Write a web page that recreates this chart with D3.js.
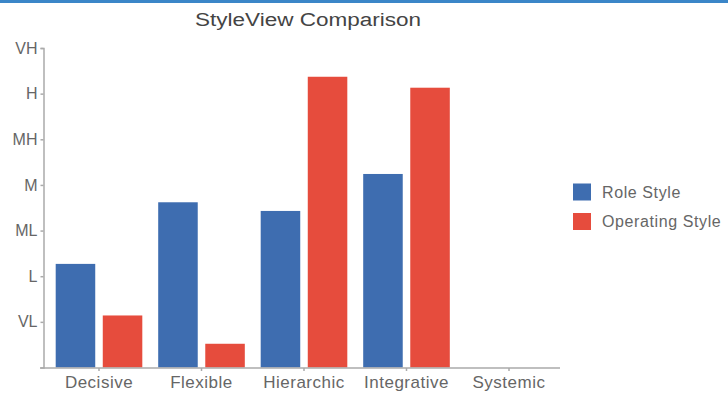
<!DOCTYPE html>
<html>
<head>
<meta charset="utf-8">
<script src="https://cdn.jsdelivr.net/npm/d3@7"></script>
<style>
  body { margin: 0; background: #fff; }
  svg { display: block; font-family: "Liberation Sans", Arial, sans-serif; }
</style>
</head>
<body>
<script>
// Chart data
const categories = ["Decisive", "Flexible", "Hierarchic", "Integrative", "Systemic"];
const seriesNames = ["Role Style", "Operating Style"];
const roleStyle = [2.27, 3.62, 3.43, 4.24, null];
const operatingStyle = [1.14, 0.52, 6.37, 6.13, null];
const levelLabels = ["VL", "L", "ML", "M", "MH", "H", "VH"]; // values 1..7
const colors = ["#3e6db0", "#e64c3d"];

const width = 728, height = 394;

const svg = d3.select("body").append("svg")
    .attr("width", width)
    .attr("height", height);

// top band
svg.append("rect")
    .attr("x", 0).attr("y", 0)
    .attr("width", width).attr("height", 3)
    .attr("fill", "#3b86c8");

// Title
svg.append("text")
    .attr("x", 308)
    .attr("y", 26)
    .attr("text-anchor", "middle")
    .attr("font-size", 18)
    .attr("fill", "#444")
    .attr("textLength", 226)
    .attr("lengthAdjust", "spacingAndGlyphs")
    .text("StyleView Comparison");

// Scales
const x0 = d3.scaleBand()
    .domain(categories)
    .range([47.75, 560.25])
    .paddingInner(0.155)
    .paddingOuter(0.0775);

const x1 = d3.scaleBand()
    .domain(seriesNames)
    .range([0, x0.bandwidth()])
    .paddingInner(0.16);

const y = d3.scaleLinear()
    .domain([0, levelLabels.length])
    .range([367.5, 48]);

// Bars
const rows = categories.map((c, i) => ({
    category: c,
    values: [roleStyle[i], operatingStyle[i]]
}));

const groups = svg.append("g")
    .selectAll("g")
    .data(rows)
    .join("g")
    .attr("transform", d => `translate(${x0(d.category)},0)`);

groups.selectAll("rect")
    .data(d => d.values.map((v, j) => ({ series: seriesNames[j], value: v, j: j })).filter(d => d.value != null))
    .join("rect")
    .attr("x", d => x1(d.series))
    .attr("width", x1.bandwidth())
    .attr("y", d => y(d.value))
    .attr("height", d => y(0) - y(d.value))
    .attr("fill", d => colors[d.j]);

// Y axis
const yAxis = svg.append("g")
    .attr("transform", "translate(43.5,0)")
    .call(d3.axisLeft(y)
        .tickValues(d3.range(1, levelLabels.length + 1))
        .tickFormat(d => levelLabels[d - 1])
        .tickSize(3)
        .tickSizeOuter(3)
        .tickPadding(3));

// X axis
const xAxis = svg.append("g")
    .attr("transform", `translate(0,${y(0) + 0.5})`)
    .call(d3.axisBottom(x0).tickSize(3).tickSizeOuter(0).tickPadding(5));

xAxis.select(".domain").attr("d", "M40,0H560");

[yAxis, xAxis].forEach(ax => {
    ax.select(".domain").attr("stroke", "#aaa").attr("stroke-width", 1.5);
    ax.selectAll(".tick line").attr("stroke", "#aaa").attr("stroke-width", 1.5);
    ax.selectAll(".tick text")
        .attr("fill", "#666")
        .attr("font-family", "'Liberation Sans', Arial, sans-serif");
});
yAxis.selectAll(".tick text").attr("font-size", 16);
xAxis.selectAll(".tick text").attr("font-size", 17).style("letter-spacing", "0.5px");

// Legend
const legend = svg.append("g")
    .selectAll("g")
    .data(seriesNames)
    .join("g")
    .attr("transform", (d, i) => `translate(573,${183.5 + i * 29.5})`);

legend.append("rect")
    .attr("width", 18)
    .attr("height", 17)
    .attr("fill", (d, i) => colors[i]);

legend.append("text")
    .attr("x", 29)
    .attr("y", 8.5)
    .attr("dy", "0.35em")
    .attr("font-size", 16)
    .attr("fill", "#666")
    .style("letter-spacing", "0.6px")
    .text(d => d);
</script>
</body>
</html>
